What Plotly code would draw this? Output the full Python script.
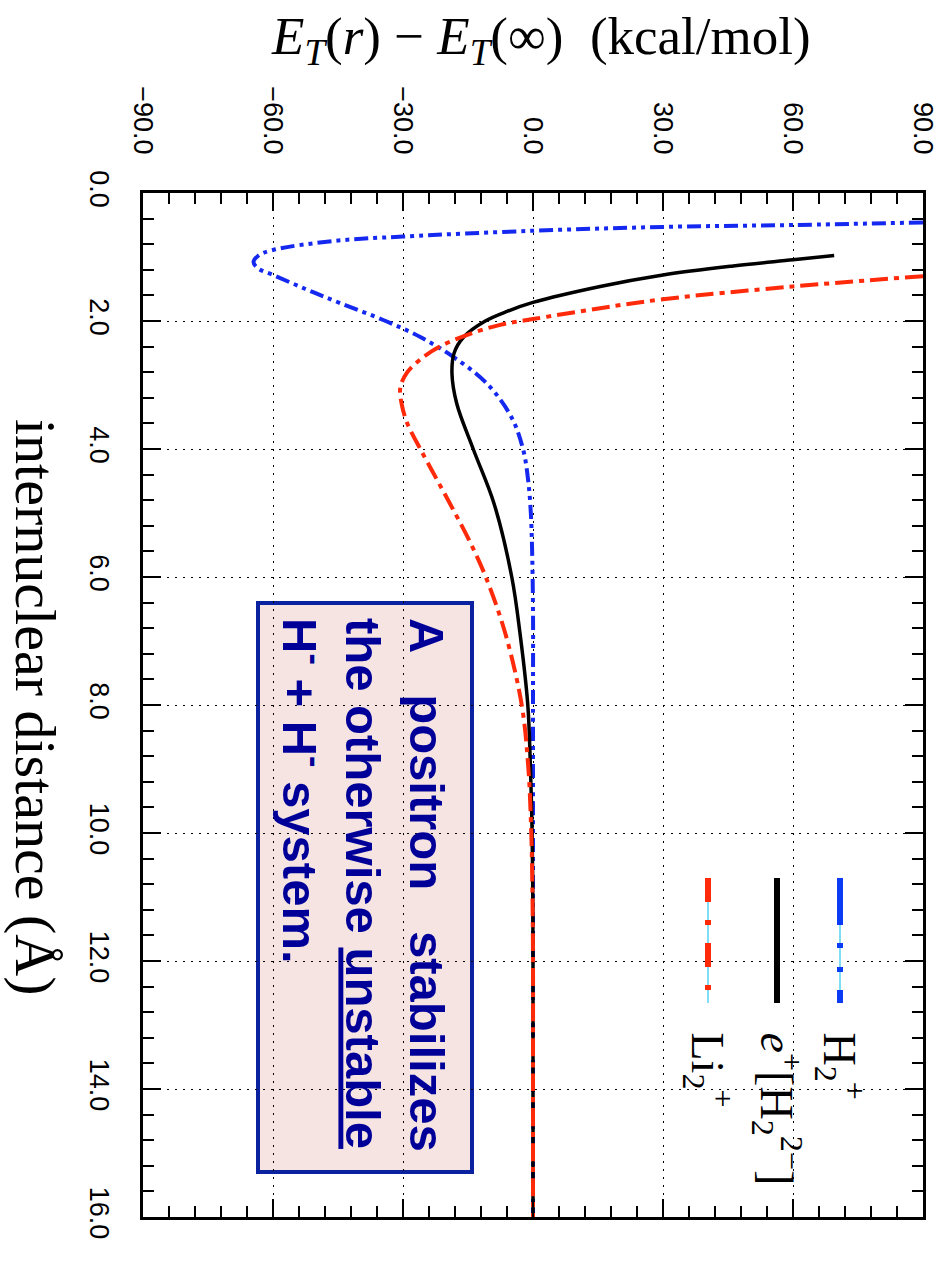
import plotly.graph_objects as go

# ---------------- data ----------------
# internuclear distance r (Angstrom) and E_T(r) - E_T(inf) (kcal/mol)
r_h2 = [0.46, 0.50, 0.53, 0.59, 0.68, 0.75, 0.89, 0.98, 1.08, 1.18, 1.28, 1.50,
        1.72, 2.00, 2.25, 2.56, 2.98, 3.50, 4.00, 4.50, 5.00, 5.60, 6.50,
        8.00, 10.0, 12.0, 14.0, 16.0]
e_h2 = [90, 60, 30, 0, -30, -46, -60, -63.4, -64.5, -63.4, -60, -52.5,
        -44.5, -34, -26, -18.4, -10.6, -5.0, -2.3, -1.1, -0.5, -0.2, 0,
        0, 0, 0, 0, 0]

r_pos = [0.977, 1.044, 1.14, 1.28, 1.46, 1.71, 1.85, 2.00, 2.25, 2.50, 2.82,
         3.29, 4.00, 4.85, 6.00, 6.88, 8.00, 8.96, 10.0, 11.0, 12.0, 14.0, 16.0]
e_pos = [69.5, 60, 46.2, 30, 15.5, 0, -6.0, -11.0, -16, -18.2, -18.7,
         -17.6, -13.8, -9.0, -4.9, -3.0, -1.2, -0.6, -0.2, -0.05, 0, 0, 0]

r_li = [1.30, 1.46, 1.66, 1.80, 1.97, 2.06, 2.22, 2.40, 2.60, 2.80, 3.03, 3.30,
        3.60, 4.00, 4.50, 5.00, 5.50, 6.00, 6.88, 8.00, 8.96, 10.0, 11.1, 12.0, 14.0, 16.0]
e_li = [90, 60, 30, 15.5, 0, -7.6, -15.3, -21.5, -26, -29, -30.6, -30.3,
        -29, -26, -22, -18, -14.2, -10.9, -6.4, -2.6, -1.1, -0.4, -0.1, 0, 0, 0]

series_labels = ["H<sub>2</sub><sup>+</sup>",
                 "<i>e</i><sup>+</sup>[H<sub>2</sub><sup>2\u2212</sup>]",
                 "Li<sub>2</sub><sup>+</sup>"]

# ---------------- layout geometry ----------------
W, H = 949, 1261
L, R, T, B = 143, 26, 193, 44
PW, PH = W - L - R, H - T - B


def px(x):
    return (x - L) / PW


def py(y):
    return 1 - (y - T) / PH


BLUE = "#1428F0"
RED = "#FF2A0A"
CYAN = "#7FDDF5"

fig = go.Figure()
fig.add_trace(go.Scatter(x=e_h2, y=r_h2, mode="lines", line_shape="spline",
                         line=dict(color=BLUE, width=4, dash="14px,5px,4px,5px,4px,5px"),
                         showlegend=False))
fig.add_trace(go.Scatter(x=e_pos, y=r_pos, mode="lines", line_shape="spline",
                         line=dict(color="black", width=3.5),
                         showlegend=False))
fig.add_trace(go.Scatter(x=e_li, y=r_li, mode="lines", line_shape="spline",
                         line=dict(color=RED, width=4, dash="18px,6px,5px,6px"),
                         showlegend=False))

tickfont = dict(family="Liberation Sans, Arial, sans-serif", size=27, color="black")
common = dict(showline=True, linewidth=3, linecolor="black", mirror="allticks",
              ticks="inside", ticklen=18, tickwidth=2, tickcolor="black",
              showgrid=True, gridcolor="black", gridwidth=1.3, griddash="2px,6px",
              zeroline=False, tickfont=tickfont, tickangle=90)

fig.update_xaxes(range=[-90, 90], side="top", tickmode="linear", tick0=-90, dtick=30,
                 tickformat=".1f", ticklabelstandoff=26,
                 minor=dict(dtick=6, tick0=0, ticks="inside", ticklen=11, tickwidth=2,
                            tickcolor="black", showgrid=False),
                 **common)
fig.update_yaxes(range=[16, 0], tickmode="linear", tick0=0, dtick=2,
                 tickformat=".1f", ticklabelstandoff=18,
                 minor=dict(dtick=0.4, tick0=0, ticks="inside", ticklen=11, tickwidth=2,
                            tickcolor="black", showgrid=False),
                 **common)

shapes = []
# text box
shapes.append(dict(type="rect", xref="paper", yref="paper", layer="below",
                   x0=px(258), x1=px(472), y0=py(603), y1=py(1172),
                   fillcolor="#F5E4E2", line=dict(color="#0A22A0", width=4)))

# legend samples
y_top, y_bot = 878, 1003
# H2+ (blue, dash-dot-dot over thin cyan)
shapes.append(dict(type="line", xref="paper", yref="paper", x0=px(840), x1=px(840),
                   y0=py(y_top), y1=py(y_bot), line=dict(color=CYAN, width=2)))
for a, b in [(878, 925), (943, 948), (967, 972), (990, 1003)]:
    shapes.append(dict(type="line", xref="paper", yref="paper", x0=px(840), x1=px(840),
                       y0=py(a), y1=py(b), line=dict(color="#0A3CF5", width=6)))
# e+[H2 2-] (black solid)
shapes.append(dict(type="line", xref="paper", yref="paper", x0=px(777), x1=px(777),
                   y0=py(y_top), y1=py(y_bot), line=dict(color="black", width=6)))
# Li2+ (red dash-dot over thin cyan)
shapes.append(dict(type="line", xref="paper", yref="paper", x0=px(708), x1=px(708),
                   y0=py(y_top), y1=py(y_bot), line=dict(color=CYAN, width=2)))
for a, b in [(878, 902), (920, 925), (943, 967), (985, 990)]:
    shapes.append(dict(type="line", xref="paper", yref="paper", x0=px(708), x1=px(708),
                       y0=py(a), y1=py(b), line=dict(color="#FF2A0A", width=6)))

serif = "Liberation Serif, Times New Roman, serif"
annotations = []
# axis titles
annotations.append(dict(xref="paper", yref="paper", x=px(541), y=py(40),
                        xanchor="center", yanchor="middle", showarrow=False,
                        text="<i>E<sub>T</sub></i>(<i>r</i>) \u2212 <i>E<sub>T</sub></i>(\u221e)\u00a0 (kcal/mol)",
                        font=dict(family=serif, size=53, color="black")))
annotations.append(dict(xref="paper", yref="paper", x=px(36), y=py(707),
                        xanchor="center", yanchor="middle", showarrow=False, textangle=90,
                        text="internuclear distance (\u00c5)",
                        font=dict(family=serif, size=58, color="black")))
# legend labels
for xc, lab in zip([840, 777, 708], series_labels):
    annotations.append(dict(xref="paper", yref="paper", x=px(xc), y=py(1030),
                            xanchor="center", yanchor="top", showarrow=False, textangle=90,
                            text=lab, font=dict(family=serif, size=46, color="black")))
# text box content
annotations.append(dict(xref="paper", yref="paper", x=px(364), y=py(616),
                        xanchor="center", yanchor="top", showarrow=False, textangle=90,
                        align="left",
                        text="<b>A\u00a0\u00a0 positron\u00a0\u00a0 stabilizes<br>the otherwise <u>unstable</u><br>"
                             "H<sup>-</sup> + H<sup>-</sup> system.</b>",
                        font=dict(family="Liberation Sans, Arial, sans-serif", size=49,
                                  color="#000099")))

fig.update_layout(width=W, height=H, margin=dict(l=L, r=R, t=T, b=B),
                  paper_bgcolor="white", plot_bgcolor="white",
                  shapes=shapes, annotations=annotations, showlegend=False)

fig.write_html("out.html")
